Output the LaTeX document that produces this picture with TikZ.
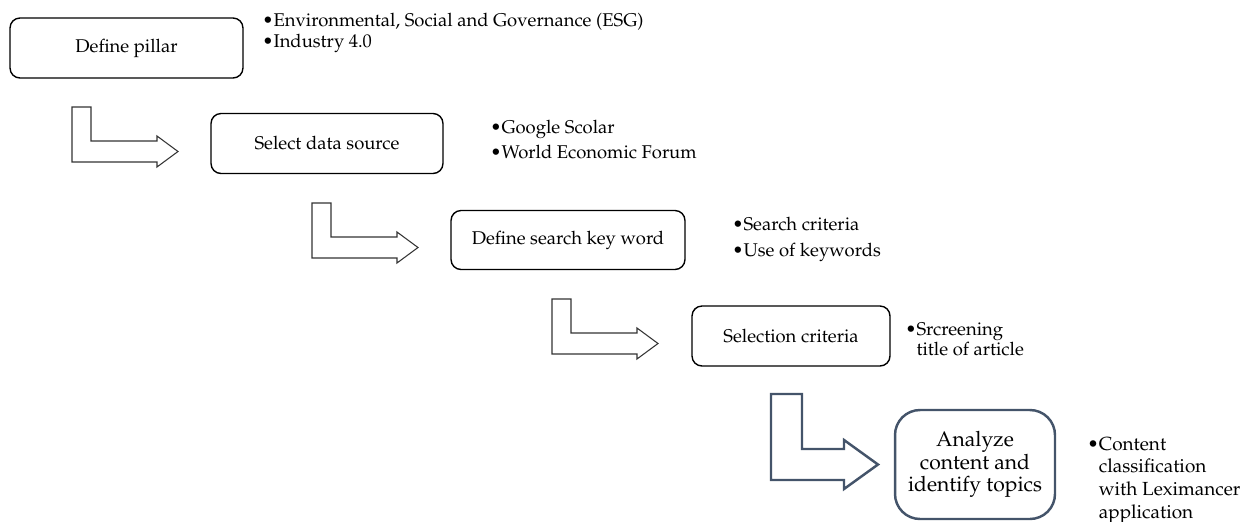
\documentclass[tikz,border=0pt]{standalone}
\usepackage[T1]{fontenc}
\usepackage{mathpazo}
\usetikzlibrary{positioning,calc}
\definecolor{slate}{HTML}{44546A}
\tikzstyle{stepbox}=[draw,line width=0.8pt,rounded corners=0.2cm,inner sep=0pt,
  font=\fontsize{10.5}{13}\selectfont]
\tikzstyle{bigbox}=[stepbox,draw=slate,line width=1.4pt,rounded corners=0.5cm,
  align=center,font=\fontsize{12}{12.8}\selectfont]
\tikzstyle{bendarrow}=[draw=black!80,line width=0.6pt,fill=white]
\tikzstyle{note}=[anchor=base west,inner sep=0pt]
\newcommand{\newStep}[5]{\node[stepbox,minimum width=#4,minimum height=#5](#1) at (#2) {#3};}
\newcommand{\newNote}[5][10.5]{\node[note,font=\fontsize{#1}{#4}\selectfont](#2) at (#3)
  {\begin{tabular}[t]{@{}l@{}l@{}}#5\end{tabular}};}
% L-shaped block arrow, #1 = top left corner
\newcommand{\newBend}[1]{\draw[bendarrow] (#1) -- ++(19,0) -- ++(0,34) -- ++(66,0) -- ++(0,-5)
  -- ++(21,15.5) -- ++(-21,15.5) -- ++(0,-5) -- ++(-85,0) -- cycle;}

\begin{document}
\begin{tikzpicture}[x=0.02cm,y=-0.02cm]
  \useasboundingbox (0,0) rectangle (1244,521);
  % steps
  \newStep{pillar}{126.5,48}{Define pillar}{4.66cm}{1.2cm}
  \newStep{source}{327,143.5}{Select data source}{4.64cm}{1.2cm}
  \newStep{keyword}{568,240}{Define search key word}{4.68cm}{1.18cm}
  \newStep{criteria}{791,336}{Selection criteria}{3.96cm}{1.2cm}
  \node[bigbox,minimum width=3.2cm,minimum height=2.18cm](topics) at (975,464.5)
    {Analyze\\content and\\identify topics};
  % bullets
  \newNote{esg}{262,26}{12.5pt}{\textbullet & Environmental, Social and Governance (ESG)\\
    \textbullet & Industry 4.0}
  \newNote{data}{490,133}{14.7pt}{\textbullet & Google Scolar\\ \textbullet & World Economic Forum}
  \newNote{search}{732,230}{15pt}{\textbullet & Search criteria\\ \textbullet & Use of keywords}
  \newNote{screen}{905,335}{11.4pt}{\textbullet & Srcreening\\ & title of article}
  \newNote[10.8]{content}{1087,450}{12.9pt}{\textbullet & Content\\ & classification\\
    & with Leximancer\\ & application}
  % arrows between steps
  \coordinate (a1) at (72,107);
  \coordinate (a2) at (312,203);
  \coordinate (a3) at (552,299);
  \coordinate (a4) at (771,394);
  \newBend{a1}
  \newBend{a2}
  \newBend{a3}
  \draw[bendarrow,draw=slate,line width=1.4pt] (a4) -- ++(31,0) -- ++(0,55) -- ++(42,0)
    -- ++(0,-9) -- ++(34,24.5) -- ++(-34,24.5) -- ++(0,-9) -- ++(-73,0) -- cycle;
\end{tikzpicture}
\end{document}
